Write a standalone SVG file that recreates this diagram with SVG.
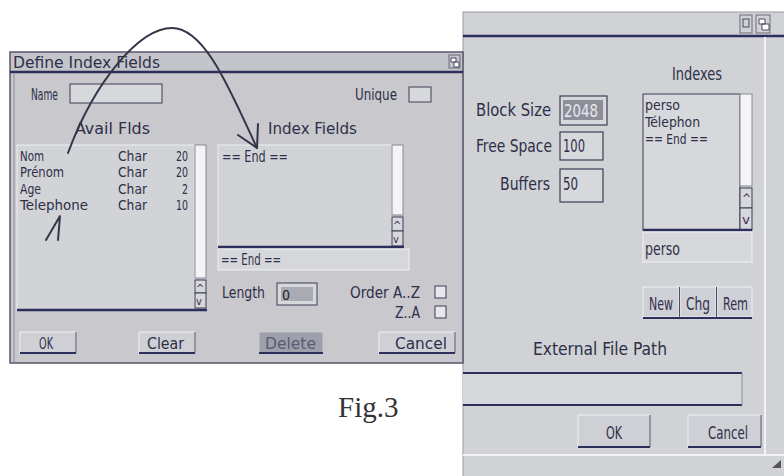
<svg xmlns="http://www.w3.org/2000/svg" width="784" height="476" viewBox="0 0 784 476">
<style>
.t{font-family:"DejaVu Sans Condensed","DejaVu Sans",sans-serif;font-size:16px;fill:#2e2f48}
.l{font-family:"DejaVu Sans Condensed","DejaVu Sans",sans-serif;font-size:14px;fill:#2e2f48}
.tn{font-family:"DejaVu Sans Condensed","DejaVu Sans",sans-serif;font-size:12px;fill:#3a3050}
.dlg{fill:#c8c8cd;stroke:#55556a;stroke-width:1.5}
.dlg2{fill:#d0d2d5;stroke:#9a9aa5;stroke-width:1}
.fld{fill:#d7d8dc;stroke:#3c3d55;stroke-width:1.2}
.strip{fill:#f4f4f6;stroke:#8a8a98;stroke-width:1}
.btn{fill:#cfd0d6;stroke:#eef0f2;stroke-width:1}
.dark{stroke:#2c2e5c;stroke-width:2.5;fill:none}
.thin{stroke:#4a4a60;stroke-width:1;fill:none}
.conn{stroke:#35354a;stroke-width:2;fill:none;stroke-linecap:round;stroke-linejoin:round}
.fig{font-family:"Liberation Serif",serif;font-size:29px;fill:#333}
</style>
<rect width="784" height="476" fill="#ffffff"/>

<g id="right-dialog">
<rect class="dlg2" x="463" y="12" width="330" height="470"/>
<line class="dark" x1="463" y1="36" x2="784" y2="36"/>
<rect x="740" y="15" width="12" height="18" fill="none" stroke="#6a6a7a"/>
<rect x="743" y="19" width="6" height="8" fill="none" stroke="#4a4a5a"/>
<rect x="756" y="15" width="14" height="18" fill="none" stroke="#6a6a7a"/>
<path d="M759,19 h6 v5 h-6 z M762,24 h7 v6 h-7 z" fill="#ffffff" stroke="#4a4a5a"/>
<line x1="765" y1="37" x2="765" y2="455" stroke="#f2f2f4" stroke-width="2"/>
<line x1="463" y1="455" x2="784" y2="455" stroke="#f2f2f4" stroke-width="2"/>
<path d="M772,468 L781,460 L781,468 Z" fill="#555"/>
<text class="t" x="672" y="80" textLength="50" lengthAdjust="spacingAndGlyphs" style="font-size:18px">Indexes</text>
<text class="t" x="476" y="116" textLength="75" lengthAdjust="spacingAndGlyphs" style="font-size:18px">Block Size</text>
<rect class="fld" x="560" y="96" width="47" height="29"/>
<rect x="563" y="100" width="40" height="20" fill="#8e8e98"/>
<text class="t" x="564" y="117" textLength="34" lengthAdjust="spacingAndGlyphs" style="fill:#e8e8ee;font-size:18px">2048</text>
<text class="t" x="476" y="152" textLength="76" lengthAdjust="spacingAndGlyphs" style="font-size:18px">Free Space</text>
<rect class="fld" x="560" y="132" width="43" height="28"/>
<text class="t" x="563" y="152" textLength="22" lengthAdjust="spacingAndGlyphs" style="font-size:18px">100</text>
<text class="t" x="500" y="190" textLength="50" lengthAdjust="spacingAndGlyphs" style="font-size:18px">Buffers</text>
<rect class="fld" x="560" y="169" width="43" height="33"/>
<text class="t" x="563" y="190" textLength="15" lengthAdjust="spacingAndGlyphs" style="font-size:18px">50</text>
<rect class="fld" x="643" y="94" width="97" height="136" style="stroke-width:1"/>
<rect class="strip" x="740" y="94" width="12" height="92"/>
<rect class="fld" x="740" y="188" width="12" height="20" style="stroke-width:1"/>
<rect class="fld" x="740" y="208" width="12" height="22" style="stroke-width:1"/>
<text class="tn" x="742" y="203">^</text>
<text class="tn" x="742" y="224" textLength="8" lengthAdjust="spacingAndGlyphs">v</text>
<line class="dark" x1="643" y1="230" x2="752" y2="230"/>
<text class="l" x="645" y="110" textLength="35" lengthAdjust="spacingAndGlyphs">perso</text>
<text class="l" x="645" y="127" textLength="55" lengthAdjust="spacingAndGlyphs">Télephon</text>
<text class="l" x="645" y="144" textLength="63" lengthAdjust="spacingAndGlyphs">== End ==</text>
<rect x="643" y="232" width="109" height="30" fill="#d6d7da" stroke="#f0f0f2"/>
<text class="t" x="645" y="255" textLength="35" lengthAdjust="spacingAndGlyphs" style="font-size:17px">perso</text>
<rect class="btn" x="643" y="287" width="36" height="30"/>
<rect class="btn" x="680" y="287" width="36" height="30"/>
<rect class="btn" x="717" y="287" width="35" height="30"/>
<line class="dark" x1="643" y1="318" x2="752" y2="318" style="stroke-width:2"/>
<line class="thin" x1="679.5" y1="287" x2="679.5" y2="318"/>
<line class="thin" x1="716.5" y1="287" x2="716.5" y2="318"/>
<text class="t" x="649" y="310" textLength="24" lengthAdjust="spacingAndGlyphs" style="font-size:18px">New</text>
<text class="t" x="686" y="310" textLength="24" lengthAdjust="spacingAndGlyphs" style="font-size:18px">Chg</text>
<text class="t" x="723" y="310" textLength="25" lengthAdjust="spacingAndGlyphs" style="font-size:18px">Rem</text>
<text class="t" x="533" y="355" textLength="134" lengthAdjust="spacingAndGlyphs" style="font-size:18px">External File Path</text>
<rect x="463" y="373" width="279" height="32" fill="#d6d7da"/>
<line class="dark" x1="463" y1="373" x2="742" y2="373" style="stroke-width:2"/>
<line class="dark" x1="463" y1="405" x2="742" y2="405" style="stroke-width:2"/>
<line x1="742" y1="373" x2="742" y2="405" stroke="#8a8a98"/>
<rect class="btn" x="578" y="415" width="72" height="32"/>
<line class="dark" x1="578" y1="447" x2="650" y2="447" style="stroke-width:2"/>
<line class="thin" x1="650" y1="415" x2="650" y2="447"/>
<text class="t" x="606" y="439" textLength="16" lengthAdjust="spacingAndGlyphs" style="font-size:18px">OK</text>
<rect class="btn" x="688" y="415" width="73" height="32"/>
<line class="dark" x1="688" y1="447" x2="761" y2="447" style="stroke-width:2"/>
<line class="thin" x1="761" y1="415" x2="761" y2="447"/>
<text class="t" x="708" y="439" textLength="40" lengthAdjust="spacingAndGlyphs" style="font-size:18px">Cancel</text>
</g>

<g id="left-dialog">
<rect class="dlg" x="10" y="52" width="453" height="311"/>
<rect x="11" y="53" width="451" height="19" fill="#c4c5ca"/>
<line class="dark" x1="10" y1="72" x2="463" y2="72"/>
<text class="t" x="13" y="68" textLength="147" lengthAdjust="spacingAndGlyphs">Define Index Fields</text>
<rect x="449" y="55" width="11" height="13" fill="none" stroke="#6a6a7a"/>
<path d="M451,58 h5 v4 h-5 z M454,62 h5 v5 h-5 z" fill="#ffffff" stroke="#4a4a5a"/>
<line x1="14" y1="73" x2="14" y2="362" stroke="#8a8a98"/>
<text class="t" x="31" y="100" textLength="27" lengthAdjust="spacingAndGlyphs">Name</text>
<rect class="fld" x="70" y="84" width="92" height="19" style="stroke-width:1"/>
<text class="t" x="355" y="100" textLength="42" lengthAdjust="spacingAndGlyphs">Unique</text>
<rect class="fld" x="409" y="87" width="22" height="15" style="stroke-width:1"/>
<text class="t" x="75" y="134" textLength="75" lengthAdjust="spacingAndGlyphs">Avail Flds</text>
<text class="t" x="268" y="134" textLength="89" lengthAdjust="spacingAndGlyphs">Index Fields</text>
</g>

<g id="avail-list">
<rect x="17" y="145" width="178" height="165" fill="#d2d3d7" stroke="#eef0f2"/>
<rect class="strip" x="195" y="145" width="11" height="133"/>
<rect class="fld" x="195" y="280" width="11" height="13" style="stroke-width:1"/>
<rect class="fld" x="195" y="293" width="11" height="15" style="stroke-width:1"/>
<text class="tn" x="196" y="292" style="font-size:11px">^</text>
<text class="tn" x="196" y="305" style="font-size:11px">v</text>
<line class="dark" x1="17" y1="310" x2="207" y2="310"/>
<text class="l" x="20" y="161" textLength="24" lengthAdjust="spacingAndGlyphs">Nom</text>
<text class="l" x="20" y="177" textLength="44" lengthAdjust="spacingAndGlyphs">Prénom</text>
<text class="l" x="20" y="194" textLength="21" lengthAdjust="spacingAndGlyphs">Age</text>
<text class="l" x="20" y="210" textLength="68" lengthAdjust="spacingAndGlyphs">Telephone</text>
<text class="l" x="118" y="161" textLength="29" lengthAdjust="spacingAndGlyphs">Char</text>
<text class="l" x="118" y="177" textLength="29" lengthAdjust="spacingAndGlyphs">Char</text>
<text class="l" x="118" y="194" textLength="29" lengthAdjust="spacingAndGlyphs">Char</text>
<text class="l" x="118" y="210" textLength="29" lengthAdjust="spacingAndGlyphs">Char</text>
<text class="l" x="176" y="161" textLength="12" lengthAdjust="spacingAndGlyphs">20</text>
<text class="l" x="176" y="177" textLength="12" lengthAdjust="spacingAndGlyphs">20</text>
<text class="l" x="182" y="194" textLength="6" lengthAdjust="spacingAndGlyphs">2</text>
<text class="l" x="176" y="210" textLength="12" lengthAdjust="spacingAndGlyphs">10</text>
</g>

<g id="index-list">
<rect x="218" y="145" width="174" height="102" fill="#d2d3d7" stroke="#eef0f2"/>
<rect class="strip" x="392" y="145" width="11" height="70"/>
<rect class="fld" x="392" y="217" width="11" height="14" style="stroke-width:1"/>
<rect class="fld" x="392" y="231" width="11" height="15" style="stroke-width:1"/>
<text class="tn" x="393" y="229" style="font-size:11px">^</text>
<text class="tn" x="393" y="243" style="font-size:11px">v</text>
<line class="dark" x1="218" y1="247" x2="404" y2="247"/>
<text class="t" x="222" y="162" textLength="66" lengthAdjust="spacingAndGlyphs">== End ==</text>
<rect x="218" y="249" width="191" height="21" fill="#d6d7da" stroke="#eef0f2"/>
<text class="t" x="221" y="265" textLength="60" lengthAdjust="spacingAndGlyphs">== End ==</text>
</g>

<g id="options">
<text class="t" x="222" y="298" textLength="43" lengthAdjust="spacingAndGlyphs">Length</text>
<rect class="fld" x="277" y="283" width="40" height="22" style="stroke-width:1"/>
<rect x="281" y="287" width="32" height="14" fill="#a9abb4"/>
<text class="t" x="282" y="300" style="fill:#222;font-size:14px">0</text>
<text class="t" x="350" y="298" textLength="70" lengthAdjust="spacingAndGlyphs">Order A..Z</text>
<rect x="435" y="286" width="11" height="12" fill="#e6e7ea" stroke="#3c3d55"/>
<text class="t" x="395" y="318" textLength="25" lengthAdjust="spacingAndGlyphs">Z..A</text>
<rect x="435" y="306" width="11" height="12" fill="#e6e7ea" stroke="#3c3d55"/>
</g>

<g id="buttons">
<rect class="btn" x="20" y="332" width="56" height="21"/>
<line class="dark" x1="20" y1="353" x2="76" y2="353" style="stroke-width:2"/>
<line class="thin" x1="76" y1="332" x2="76" y2="353"/>
<text class="t" x="39" y="349" textLength="14" lengthAdjust="spacingAndGlyphs">OK</text>
<rect class="btn" x="139" y="332" width="56" height="21"/>
<line class="dark" x1="139" y1="353" x2="195" y2="353" style="stroke-width:2"/>
<line class="thin" x1="195" y1="332" x2="195" y2="353"/>
<text class="t" x="147" y="349" textLength="37" lengthAdjust="spacingAndGlyphs">Clear</text>
<rect x="259" y="332" width="64" height="21" fill="#9d9fab" stroke="#c8c9d0"/>
<line class="dark" x1="259" y1="353" x2="323" y2="353" style="stroke-width:2"/>
<text class="t" x="265" y="349" textLength="51" lengthAdjust="spacingAndGlyphs" style="fill:#5a5b70">Delete</text>
<rect class="btn" x="379" y="332" width="76" height="21"/>
<line class="dark" x1="379" y1="353" x2="455" y2="353" style="stroke-width:2"/>
<line class="thin" x1="455" y1="332" x2="455" y2="353"/>
<text class="t" x="395" y="349" textLength="52" lengthAdjust="spacingAndGlyphs">Cancel</text>
</g>

<g id="connectors">
<path class="conn" d="M68,153 C95,80 140,28 172,28 C205,28 230,90 257,148"/>
<polyline class="conn" points="238,135 257,148 258,124"/>
<polyline class="conn" points="46,240 60,216 58,240"/>
</g>

<text class="fig" x="338" y="417">Fig.3</text>
</svg>
